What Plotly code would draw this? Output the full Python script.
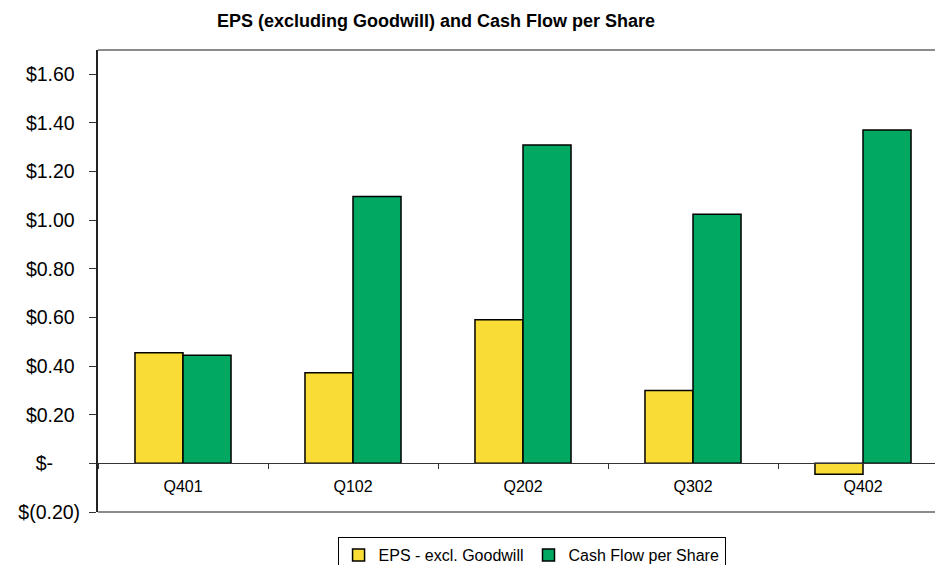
import plotly.graph_objects as go

# Quarterly per-share figures
quarters = ["Q401", "Q102", "Q202", "Q302", "Q402"]
eps_excl_goodwill = [0.455, 0.373, 0.591, 0.300, -0.045]
cash_flow_per_share = [0.445, 1.097, 1.309, 1.025, 1.371]

# Accounting-style y tick labels (dollar sign, dash for zero, parentheses for negatives)
y_tick_values = [-0.2, 0.0, 0.2, 0.4, 0.6, 0.8, 1.0, 1.2, 1.4, 1.6]
y_tick_labels = ["$(0.20)", "$-\u00a0\u00a0\u00a0\u00a0\u00a0", "$0.20\u00a0", "$0.40\u00a0",
                 "$0.60\u00a0", "$0.80\u00a0", "$1.00\u00a0", "$1.20\u00a0",
                 "$1.40\u00a0", "$1.60\u00a0"]

Y_MIN, Y_MAX = -0.2, 1.70
FONT = "Arial, Liberation Sans, sans-serif"

fig = go.Figure()
fig.add_trace(go.Bar(
    name="EPS - excl. Goodwill", x=quarters, y=eps_excl_goodwill,
    marker=dict(color="#FADC37", line=dict(color="black", width=1.5)),
))
fig.add_trace(go.Bar(
    name="Cash Flow per Share", x=quarters, y=cash_flow_per_share,
    marker=dict(color="#00A862", line=dict(color="black", width=1.5)),
))

# Category axis sits on the zero line
zero_pos = (0 - Y_MIN) / (Y_MAX - Y_MIN)

fig.update_layout(
    width=935, height=565,
    margin=dict(l=98, r=0, t=50, b=53, autoexpand=False),
    paper_bgcolor="white", plot_bgcolor="white",
    font=dict(family=FONT, color="black"),
    barmode="group", bargap=0.435, bargroupgap=0,
    title=dict(text="<b>EPS (excluding Goodwill) and Cash Flow per Share</b>",
               x=(436 / 935), xanchor="center", y=1 - 21 / 565, yanchor="middle",
               font=dict(size=18, family=FONT, color="black")),
    xaxis=dict(
        type="category", range=[-0.5, 4.5 - 13 / 170],
        anchor="free", position=zero_pos,
        showline=True, linecolor="#333333", linewidth=1,
        ticks="outside", ticklen=5, tickcolor="#333333", tickson="boundaries",
        ticklabelstandoff=8,
        tickfont=dict(size=16, family=FONT, color="black"),
        showgrid=False, zeroline=False,
    ),
    yaxis=dict(
        range=[Y_MIN, Y_MAX],
        tickmode="array", tickvals=y_tick_values, ticktext=y_tick_labels,
        showline=True, linecolor="#222222", linewidth=2,
        ticks="outside", ticklen=7, tickcolor="#333333",
        ticklabelstandoff=5,
        tickfont=dict(size=19.5, family=FONT, color="black"),
        showgrid=False, zeroline=False,
    ),
    legend=dict(
        orientation="h", x=0.518, xanchor="center",
        yref="container", y=1 - 537 / 565, yanchor="top",
        bordercolor="black", borderwidth=1, bgcolor="white",
        font=dict(size=16, family=FONT, color="black"),
        itemwidth=30, tracegroupgap=0,
    ),
    shapes=[
        dict(type="line", xref="paper", yref="paper", x0=0, x1=1, y0=1, y1=1,
             line=dict(color="#8c8c8c", width=2), layer="above"),
        dict(type="line", xref="paper", yref="paper", x0=0, x1=1, y0=0, y1=0,
             line=dict(color="#8c8c8c", width=2), layer="above"),
    ],
)

fig.write_html("out.html")
